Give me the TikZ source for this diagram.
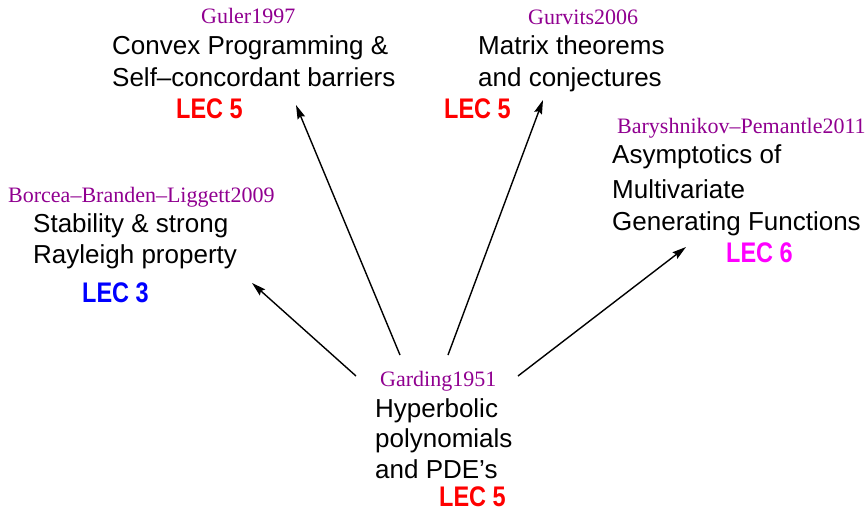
\documentclass[tikz,border=0pt]{standalone}
\usepackage{fontspec}
\setmainfont{Liberation Sans}
\newfontfamily\citefont{Liberation Serif}
\usetikzlibrary{arrows.meta}
\definecolor{citecol}{RGB}{144,0,144}
\definecolor{lecred}{RGB}{255,0,0}
\definecolor{lecblue}{RGB}{0,0,255}
\definecolor{lecmag}{RGB}{255,0,255}
\tikzset{
  cite/.style={anchor=base west, inner sep=0pt, text=citecol, font=\citefont\fontsize{22}{26}\selectfont},
  body/.style={anchor=base west, inner sep=0pt, text=black, font=\fontsize{26}{32}\selectfont},
  lec/.style={anchor=base west, inner sep=0pt, xscale=0.87, yscale=1.05, font=\bfseries\fontsize{27}{32}\selectfont},
  link/.style={line width=1.4pt, -{Stealth[length=14pt,width=8pt,inset=2pt]}}
}
\begin{document}
\begin{tikzpicture}[x=1pt,y=-1pt]
\useasboundingbox (0,0) rectangle (868,512);
% Guler
\node[cite] (gc) at (201,23) {Guler1997};
\node[body] (g1) at (112,54) {Convex Programming \&};
\node[body] (g2) at (112,86) {Self–concordant barriers};
\node[lec, text=lecred] (gl) at (176,118) {LEC 5};
% Gurvits
\node[cite] (uc) at (528,24) {Gurvits2006};
\node[body] (u1) at (478,54) {Matrix theorems};
\node[body] (u2) at (478,86) {and conjectures};
\node[lec, text=lecred] (ul) at (444,118) {LEC 5};
% Borcea
\node[cite] (bc) at (8,202) {Borcea–Branden–Liggett2009};
\node[body] (b1) at (33,232) {Stability \& strong};
\node[body] (b2) at (33,263) {Rayleigh property};
\node[lec, text=lecblue] (bl) at (82,302) {LEC 3};
% Baryshnikov
\node[cite] (yc) at (617,133) {Baryshnikov–Pemantle2011};
\node[body] (y1) at (612,163) {Asymptotics of};
\node[body] (y2) at (612,198) {Multivariate};
\node[body] (y3) at (612,230) {Generating Functions};
\node[lec, text=lecmag] (yl) at (726,262) {LEC 6};
% Garding
\node[cite] (hc) at (380,386) {Garding1951};
\node[body] (h1) at (375,417) {Hyperbolic};
\node[body] (h2) at (375,447) {polynomials};
\node[body] (h3) at (375,478) {and PDE’s};
\node[lec, text=lecred] (hl) at (439,506.5) {LEC 5};
% connector ends
\coordinate (s1) at (356,376);
\coordinate (t1) at (252,283);
\coordinate (s2) at (400,355);
\coordinate (t2) at (296,105);
\coordinate (s3) at (448,355);
\coordinate (t3) at (543,100);
\coordinate (s4) at (518,376);
\coordinate (t4) at (686,247);
\draw[link] (s1) -- (t1);
\draw[link] (s2) -- (t2);
\draw[link] (s3) -- (t3);
\draw[link] (s4) -- (t4);
\end{tikzpicture}
\end{document}
